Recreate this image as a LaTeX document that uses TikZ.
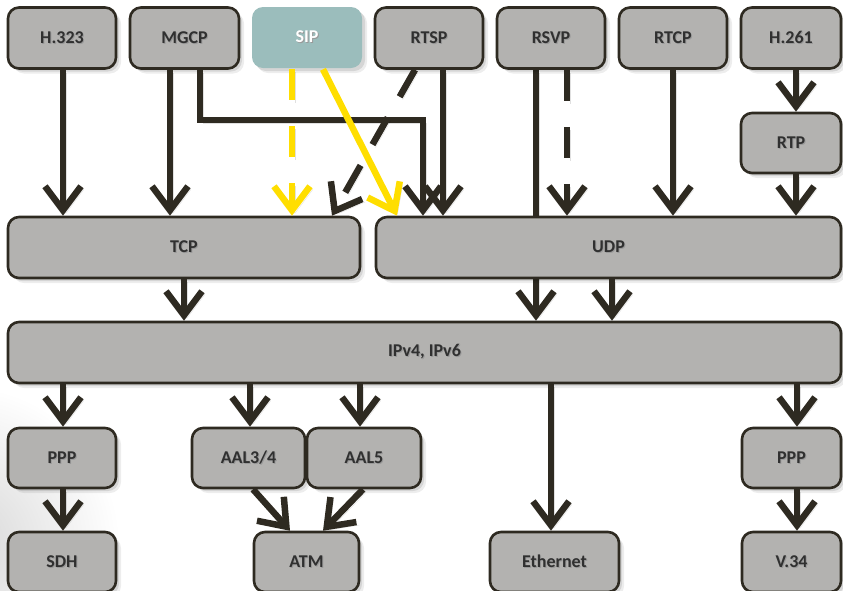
\documentclass[tikz,border=0pt]{standalone}
\usepackage{fontspec}
\setmainfont{Carlito}
\usetikzlibrary{arrows.meta,shadows,backgrounds}
\definecolor{ink}{RGB}{46,42,33}
\definecolor{boxgray}{RGB}{179,178,176}
\definecolor{sipteal}{RGB}{155,189,188}
\definecolor{sigyellow}{RGB}{255,222,0}
\definecolor{labelgray}{RGB}{48,48,48}
% label with a soft offset shadow underneath
\newcommand\shadowed[1]{%
  \makebox[0pt][l]{\hspace{1pt}\raisebox{-1pt}{\textcolor{black!40}{#1}}}#1}
\begin{document}
\begin{tikzpicture}[x=1pt,y=-1pt,
  boxshade/.style={
    general shadow={fill=black,opacity=.07,shadow xshift=5pt,shadow yshift=-5pt},
    general shadow={fill=black,opacity=.10,shadow xshift=3pt,shadow yshift=-3pt}},
  protobox/.style={boxshade, draw=ink, fill=boxgray, line width=2.6pt,
    rounded corners=11pt, text=labelgray, inner sep=0pt,
    font=\bfseries\fontsize{18}{20}\selectfont, minimum height=61},
  sipbox/.style={protobox, draw=none, fill=sipteal, text=white},
  flowbase/.style={draw=ink, line width=6.5pt, line join=miter,
    -{Straight Barb[length=24pt,width=36pt]}},
  flowshadow/.style={draw=black, draw opacity=.12,
    transform canvas={xshift=3pt,yshift=-3pt}},
  flow/.style={flowbase, preaction={flowshadow, solid}},
  dashflow/.style={flowbase, dash pattern=#1,
    preaction={flowshadow, dash pattern=#1}},
  sipflow/.style={flowbase, draw=sigyellow, preaction={flowshadow, solid}},
  sipdash/.style={flowbase, draw=sigyellow, dash pattern=#1,
    preaction={flowshadow, dash pattern=#1}}
]
\useasboundingbox (0,0) rectangle (843,590);
\clip (0,0) rectangle (843,590);

% faint vignette in the lower left corner
\shade[inner color=black!16, outer color=white] (-40,545) circle (160);

% column positions used by the connectors
\foreach \v in {63,170,184,200,250,253,290,292,323,332,360,363,397,415,423,443,536,551,567,612,673,796,797}
  \coordinate (x\v) at (\v,0);
\coordinate (bend) at (423,120);

% application layer
\node[protobox, minimum width=108] (h323) at (62,38) {\shadowed{H.323}};
\node[protobox, minimum width=109] (mgcp) at (184.5,38) {\shadowed{MGCP}};
\node[sipbox,   minimum width=110] (sip)  at (307,37.5) {\shadowed{SIP}};
\node[protobox, minimum width=108] (rtsp) at (429,38) {\shadowed{RTSP}};
\node[protobox, minimum width=108] (rsvp) at (551,38) {\shadowed{RSVP}};
\node[protobox, minimum width=108] (rtcp) at (673,38) {\shadowed{RTCP}};
\node[protobox, minimum width=100] (h261) at (791,38) {\shadowed{H.261}};
\node[protobox, minimum width=100, minimum height=60] (rtp) at (791,143) {\shadowed{RTP}};

% transport and network layers
\node[protobox, minimum width=352] (tcp) at (184,247.5) {\shadowed{TCP}};
\node[protobox, minimum width=465] (udp) at (608.5,247.5) {\shadowed{UDP}};
\node[protobox, minimum width=833] (ip)  at (424.5,352.5) {\shadowed{IPv4, IPv6}};

% link layer
\node[protobox, minimum width=108, minimum height=60] (pppa)  at (62,458)    {\shadowed{PPP}};
\node[protobox, minimum width=113, minimum height=60] (aal34) at (248.5,458) {\shadowed{AAL3/4}};
\node[protobox, minimum width=114, minimum height=60] (aal5)  at (364,458)   {\shadowed{AAL5}};
\node[protobox, minimum width=99,  minimum height=60] (pppb)  at (791.5,458) {\shadowed{PPP}};

% physical layer
\node[protobox, minimum width=108, minimum height=60] (sdh) at (62,562)    {\shadowed{SDH}};
\node[protobox, minimum width=105, minimum height=60] (atm) at (306.5,562) {\shadowed{ATM}};
\node[protobox, minimum width=129, minimum height=60] (eth) at (554.5,562) {\shadowed{Ethernet}};
\node[protobox, minimum width=99,  minimum height=60] (v34) at (791.5,562) {\shadowed{V.34}};

% RSVP runs straight through UDP down to IP
\begin{scope}[on background layer]
  \draw[flow] (rsvp.south -| x536) -- (ip.north -| x536);
\end{scope}

% into TCP / UDP
\draw[flow] (h323.south -| x63)  -- (tcp.north -| x63);
\draw[flow] (mgcp.south -| x170) -- (tcp.north -| x170);
\draw[flow] (mgcp.south -| x200) |- (bend) -- (udp.north -| x423);
\draw[dashflow={on 31pt off 24pt}] (rtsp.south -| x415) -- (tcp.north -| x332);
\draw[flow] (rtsp.south -| x443) -- (udp.north -| x443);
\draw[dashflow={on 31pt off 26pt}] (rsvp.south -| x567) -- (udp.north -| x567);
\draw[flow] (rtcp.south -| x673) -- (udp.north -| x673);
\draw[flow] (h261.south -| x796) -- (rtp.north -| x796);
\draw[flow] (rtp.south -| x796)  -- (udp.north -| x796);
\draw[sipdash={on 31pt off 26pt}] (sip.south -| x292) -- (tcp.north -| x292);
\draw[sipflow] (sip.south -| x323) -- (udp.north -| x397);

% into IP
\draw[flow] (tcp.south -| x184) -- (ip.north -| x184);
\draw[flow] (udp.south -| x612) -- (ip.north -| x612);

% below IP
\draw[flow] (ip.south -| x63)  -- (pppa.north -| x63);
\draw[flow] (ip.south -| x250) -- (aal34.north -| x250);
\draw[flow] (ip.south -| x360) -- (aal5.north -| x360);
\draw[flow] (ip.south -| x551) -- (eth.north -| x551);
\draw[flow] (ip.south -| x797) -- (pppb.north -| x797);
\draw[flow] (pppa.south -| x63)   -- (sdh.north -| x63);
\draw[flow] (aal34.south -| x253) -- (atm.north -| x290);
\draw[flow] (aal5.south -| x363)  -- (atm.north -| x323);
\draw[flow] (pppb.south -| x797)  -- (v34.north -| x797);
\end{tikzpicture}
\end{document}
